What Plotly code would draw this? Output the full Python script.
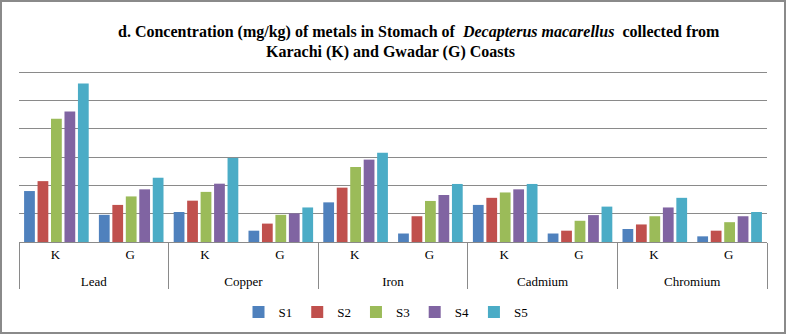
import plotly.graph_objects as go

metals = ["Lead", "Copper", "Iron", "Cadmium", "Chromium"]
coasts = ["K", "G"]
series_names = ["S1", "S2", "S3", "S4", "S5"]

# values per series, order: Lead K, Lead G, Copper K, Copper G, Iron K, Iron G, Cadmium K, Cadmium G, Chromium K, Chromium G
S1 = [1.80, 0.96, 1.06, 0.40, 1.40, 0.30, 1.31, 0.30, 0.46, 0.20]
S2 = [2.15, 1.31, 1.46, 0.65, 1.92, 0.91, 1.56, 0.40, 0.62, 0.40]
S3 = [4.35, 1.61, 1.77, 0.96, 2.65, 1.45, 1.75, 0.75, 0.91, 0.70]
S4 = [4.61, 1.86, 2.06, 1.01, 2.91, 1.66, 1.86, 0.95, 1.22, 0.91]
S5 = [5.60, 2.27, 2.97, 1.22, 3.15, 2.05, 2.05, 1.25, 1.56, 1.06]
series_values = [S1, S2, S3, S4, S5]
colors = ["#4F81BD", "#C0504D", "#9BBB59", "#8064A2", "#4BACC6"]

# inner labels carry an invisible larger-size hair space so the group-label row sits lower
SPACER = "<span style='font-size:23px'>\u200a</span>"
outer = [m for m in metals for _ in coasts]
inner = [c + SPACER for _ in metals for c in coasts]

W, H = 787, 335
L, R, T, B = 19, 20, 71, 93
pw, ph = W - L - R, H - T - B

def px_x(x):
    return (x - L) / pw

def px_y(y):
    return (H - B - y) / ph

FONT = "Liberation Serif"

fig = go.Figure()
for name, vals, col in zip(series_names, series_values, colors):
    fig.add_trace(go.Bar(x=[outer, inner], y=vals, name=name, marker_color=col,
                         marker_line_width=0))

fig.update_layout(
    width=W, height=H,
    margin=dict(l=L, r=R, t=T, b=B, autoexpand=False),
    paper_bgcolor="white", plot_bgcolor="white",
    barmode="group", bargap=0.1, bargroupgap=0.2,
    font=dict(family=FONT, size=13, color="black"),
    showlegend=True,
    legend=dict(orientation="h", x=px_x(386), xanchor="center", y=px_y(312), yanchor="middle",
                font=dict(family=FONT, size=13, color="black"), itemwidth=30,
                bgcolor="rgba(0,0,0,0)"),
)
fig.update_yaxes(range=[0, 6.04], tickvals=[1, 2, 3, 4, 5, 6], showticklabels=False, showgrid=True,
                 gridcolor="#8a8a8a", gridwidth=1, zeroline=False, showline=False, ticks="")
fig.update_xaxes(type="multicategory", showline=True, linecolor="#8a8a8a", linewidth=1,
                 showdividers=True, dividercolor="#8a8a8a", dividerwidth=1,
                 ticks="outside", ticklen=6, tickcolor="rgba(0,0,0,0)",
                 tickfont=dict(family=FONT, size=13, color="black"), showgrid=False)

fig.add_annotation(text="<b>d. Concentration (mg/kg) of metals in Stomach of  <i>Decapterus macarellus</i>  collected from</b>",
                   xref="paper", yref="paper", x=px_x(419), y=px_y(32), xanchor="center", yanchor="middle",
                   showarrow=False, font=dict(family=FONT, size=16, color="black"))
fig.add_annotation(text="<b>Karachi (K) and Gwadar (G) Coasts</b>",
                   xref="paper", yref="paper", x=px_x(390), y=px_y(52), xanchor="center", yanchor="middle",
                   showarrow=False, font=dict(family=FONT, size=16, color="black"))

fig.add_shape(type="rect", xref="paper", yref="paper",
              x0=px_x(1), x1=px_x(785), y0=px_y(333), y1=px_y(1),
              line=dict(color="#8a8a8a", width=2), fillcolor="rgba(0,0,0,0)", layer="below")

fig.write_html("out.html", config={"displayModeBar": False},
               post_script="document.body.style.margin='0';")
